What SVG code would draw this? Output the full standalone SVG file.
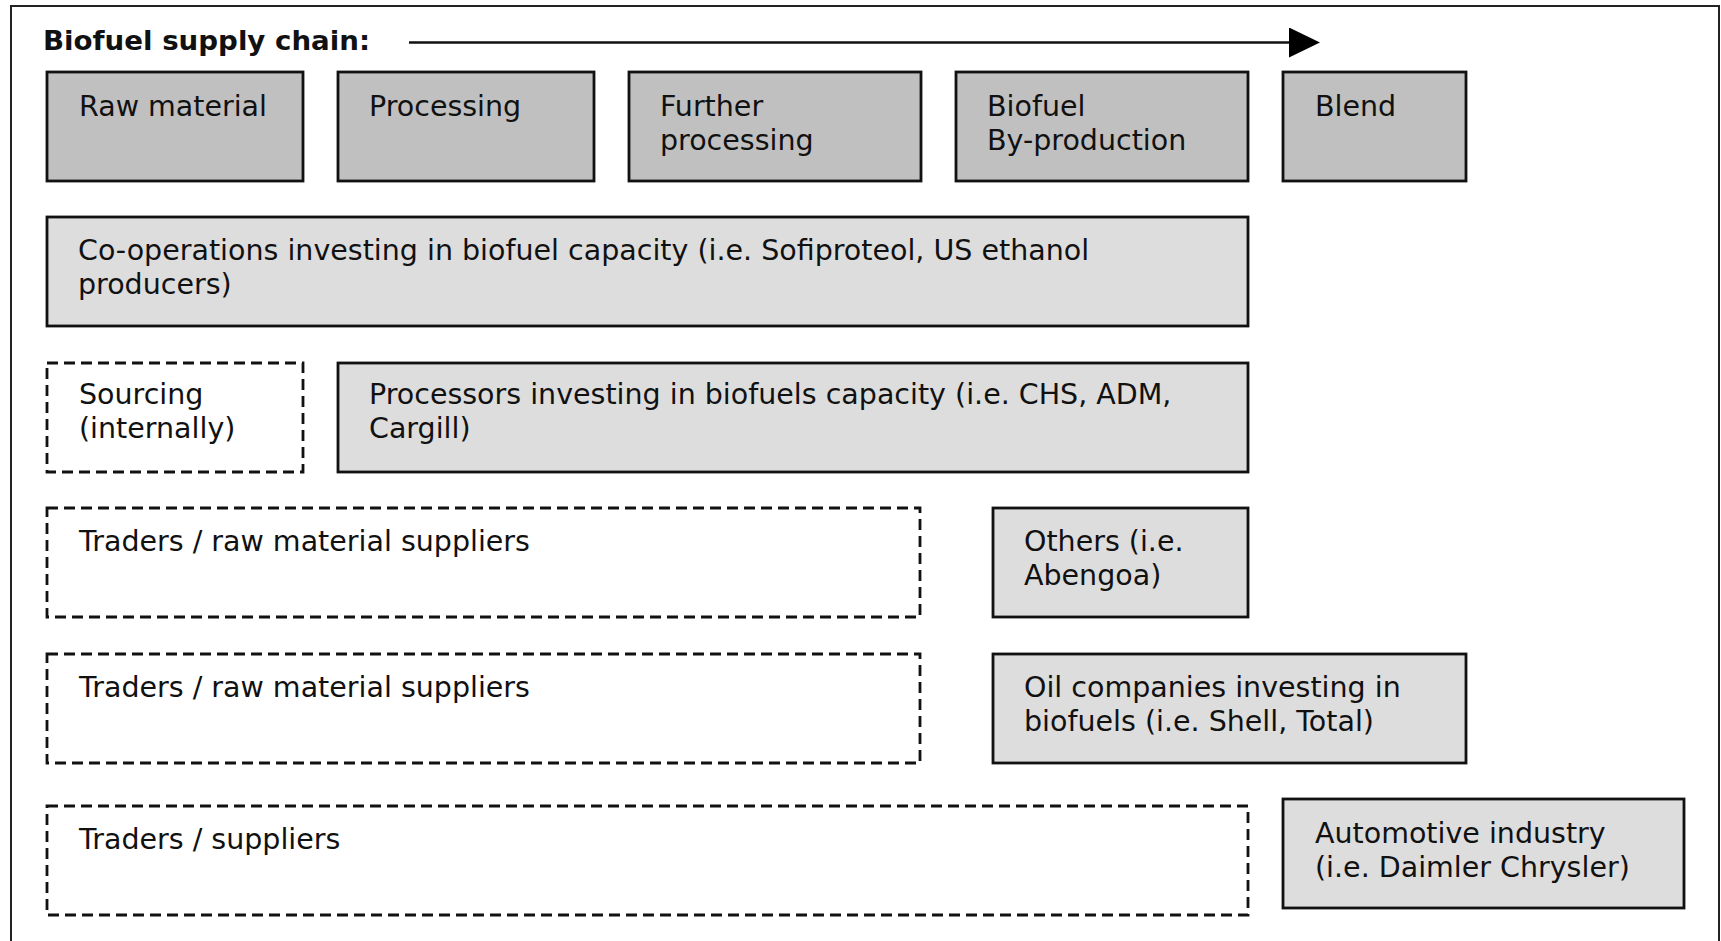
<svg xmlns="http://www.w3.org/2000/svg" width="1721" height="941" viewBox="0 0 1721 941">
<style>
  .t { font-family: "DejaVu Sans", Verdana, sans-serif; font-size: 28.5px; fill: #111; }
  .title { font-family: "DejaVu Sans", Verdana, sans-serif; font-size: 27px; font-weight: bold; fill: #111; }
  .dark { fill: #c0c0c0; stroke: #111; stroke-width: 2.8; }
  .light { fill: #dddddd; stroke: #111; stroke-width: 2.8; }
  .dash { fill: #ffffff; stroke: #111; stroke-width: 2.8; stroke-dasharray: 11 6; }
</style>
<defs>
  <marker id="ah" viewBox="0 0 31 30" markerWidth="31" markerHeight="30" refX="1" refY="15" markerUnits="userSpaceOnUse" orient="auto">
    <path d="M0,0 L31,15 L0,30 Z" fill="#000"/>
  </marker>
</defs>
<rect x="0" y="0" width="1721" height="941" fill="#fff"/>
<g id="frame">
  <rect x="11" y="6" width="1708" height="980" fill="none" stroke="#222" stroke-width="2"/>
</g>
<g id="title">
  <text class="title" x="43" y="50" textLength="327" lengthAdjust="spacingAndGlyphs">Biofuel supply chain:</text>
</g>
<g id="connectors">
  <line x1="409" y1="42.5" x2="1290" y2="42.5" stroke="#111" stroke-width="2.5" marker-end="url(#ah)"/>
</g>
<g id="raw-material">
  <rect class="dark" x="47" y="72" width="256" height="109"/>
  <text class="t" x="79" y="116">Raw material</text>
</g>
<g id="processing">
  <rect class="dark" x="338" y="72" width="256" height="109"/>
  <text class="t" x="369" y="116">Processing</text>
</g>
<g id="further-processing">
  <rect class="dark" x="629" y="72" width="292" height="109"/>
  <text class="t" x="660" y="116">Further</text>
  <text class="t" x="660" y="150">processing</text>
</g>
<g id="biofuel">
  <rect class="dark" x="956" y="72" width="292" height="109"/>
  <text class="t" x="987" y="116">Biofuel</text>
  <text class="t" x="987" y="150">By-production</text>
</g>
<g id="blend">
  <rect class="dark" x="1283" y="72" width="183" height="109"/>
  <text class="t" x="1315" y="116">Blend</text>
</g>
<g id="co-operations">
  <rect class="light" x="47" y="217" width="1201" height="109"/>
  <text class="t" x="78" y="260">Co-operations investing in biofuel capacity (i.e. Sofiproteol, US ethanol</text>
  <text class="t" x="78" y="294">producers)</text>
</g>
<g id="sourcing">
  <rect class="dash" x="47" y="363" width="256" height="109"/>
  <text class="t" x="79" y="404">Sourcing</text>
  <text class="t" x="79" y="438">(internally)</text>
</g>
<g id="processors">
  <rect class="light" x="338" y="363" width="910" height="109"/>
  <text class="t" x="369" y="404">Processors investing in biofuels capacity (i.e. CHS, ADM,</text>
  <text class="t" x="369" y="438">Cargill)</text>
</g>
<g id="traders-1">
  <rect class="dash" x="47" y="508" width="873" height="109"/>
  <text class="t" x="79" y="551">Traders / raw material suppliers</text>
</g>
<g id="others">
  <rect class="light" x="993" y="508" width="255" height="109"/>
  <text class="t" x="1024" y="551">Others (i.e.</text>
  <text class="t" x="1024" y="585">Abengoa)</text>
</g>
<g id="traders-2">
  <rect class="dash" x="47" y="654" width="873" height="109"/>
  <text class="t" x="79" y="697">Traders / raw material suppliers</text>
</g>
<g id="oil-companies">
  <rect class="light" x="993" y="654" width="473" height="109"/>
  <text class="t" x="1024" y="697">Oil companies investing in</text>
  <text class="t" x="1024" y="731">biofuels (i.e. Shell, Total)</text>
</g>
<g id="traders-suppliers">
  <rect class="dash" x="47" y="806" width="1201" height="109"/>
  <text class="t" x="79" y="849">Traders / suppliers</text>
</g>
<g id="automotive">
  <rect class="light" x="1283" y="799" width="401" height="109"/>
  <text class="t" x="1315" y="843">Automotive industry</text>
  <text class="t" x="1315" y="877">(i.e. Daimler Chrysler)</text>
</g>
</svg>
